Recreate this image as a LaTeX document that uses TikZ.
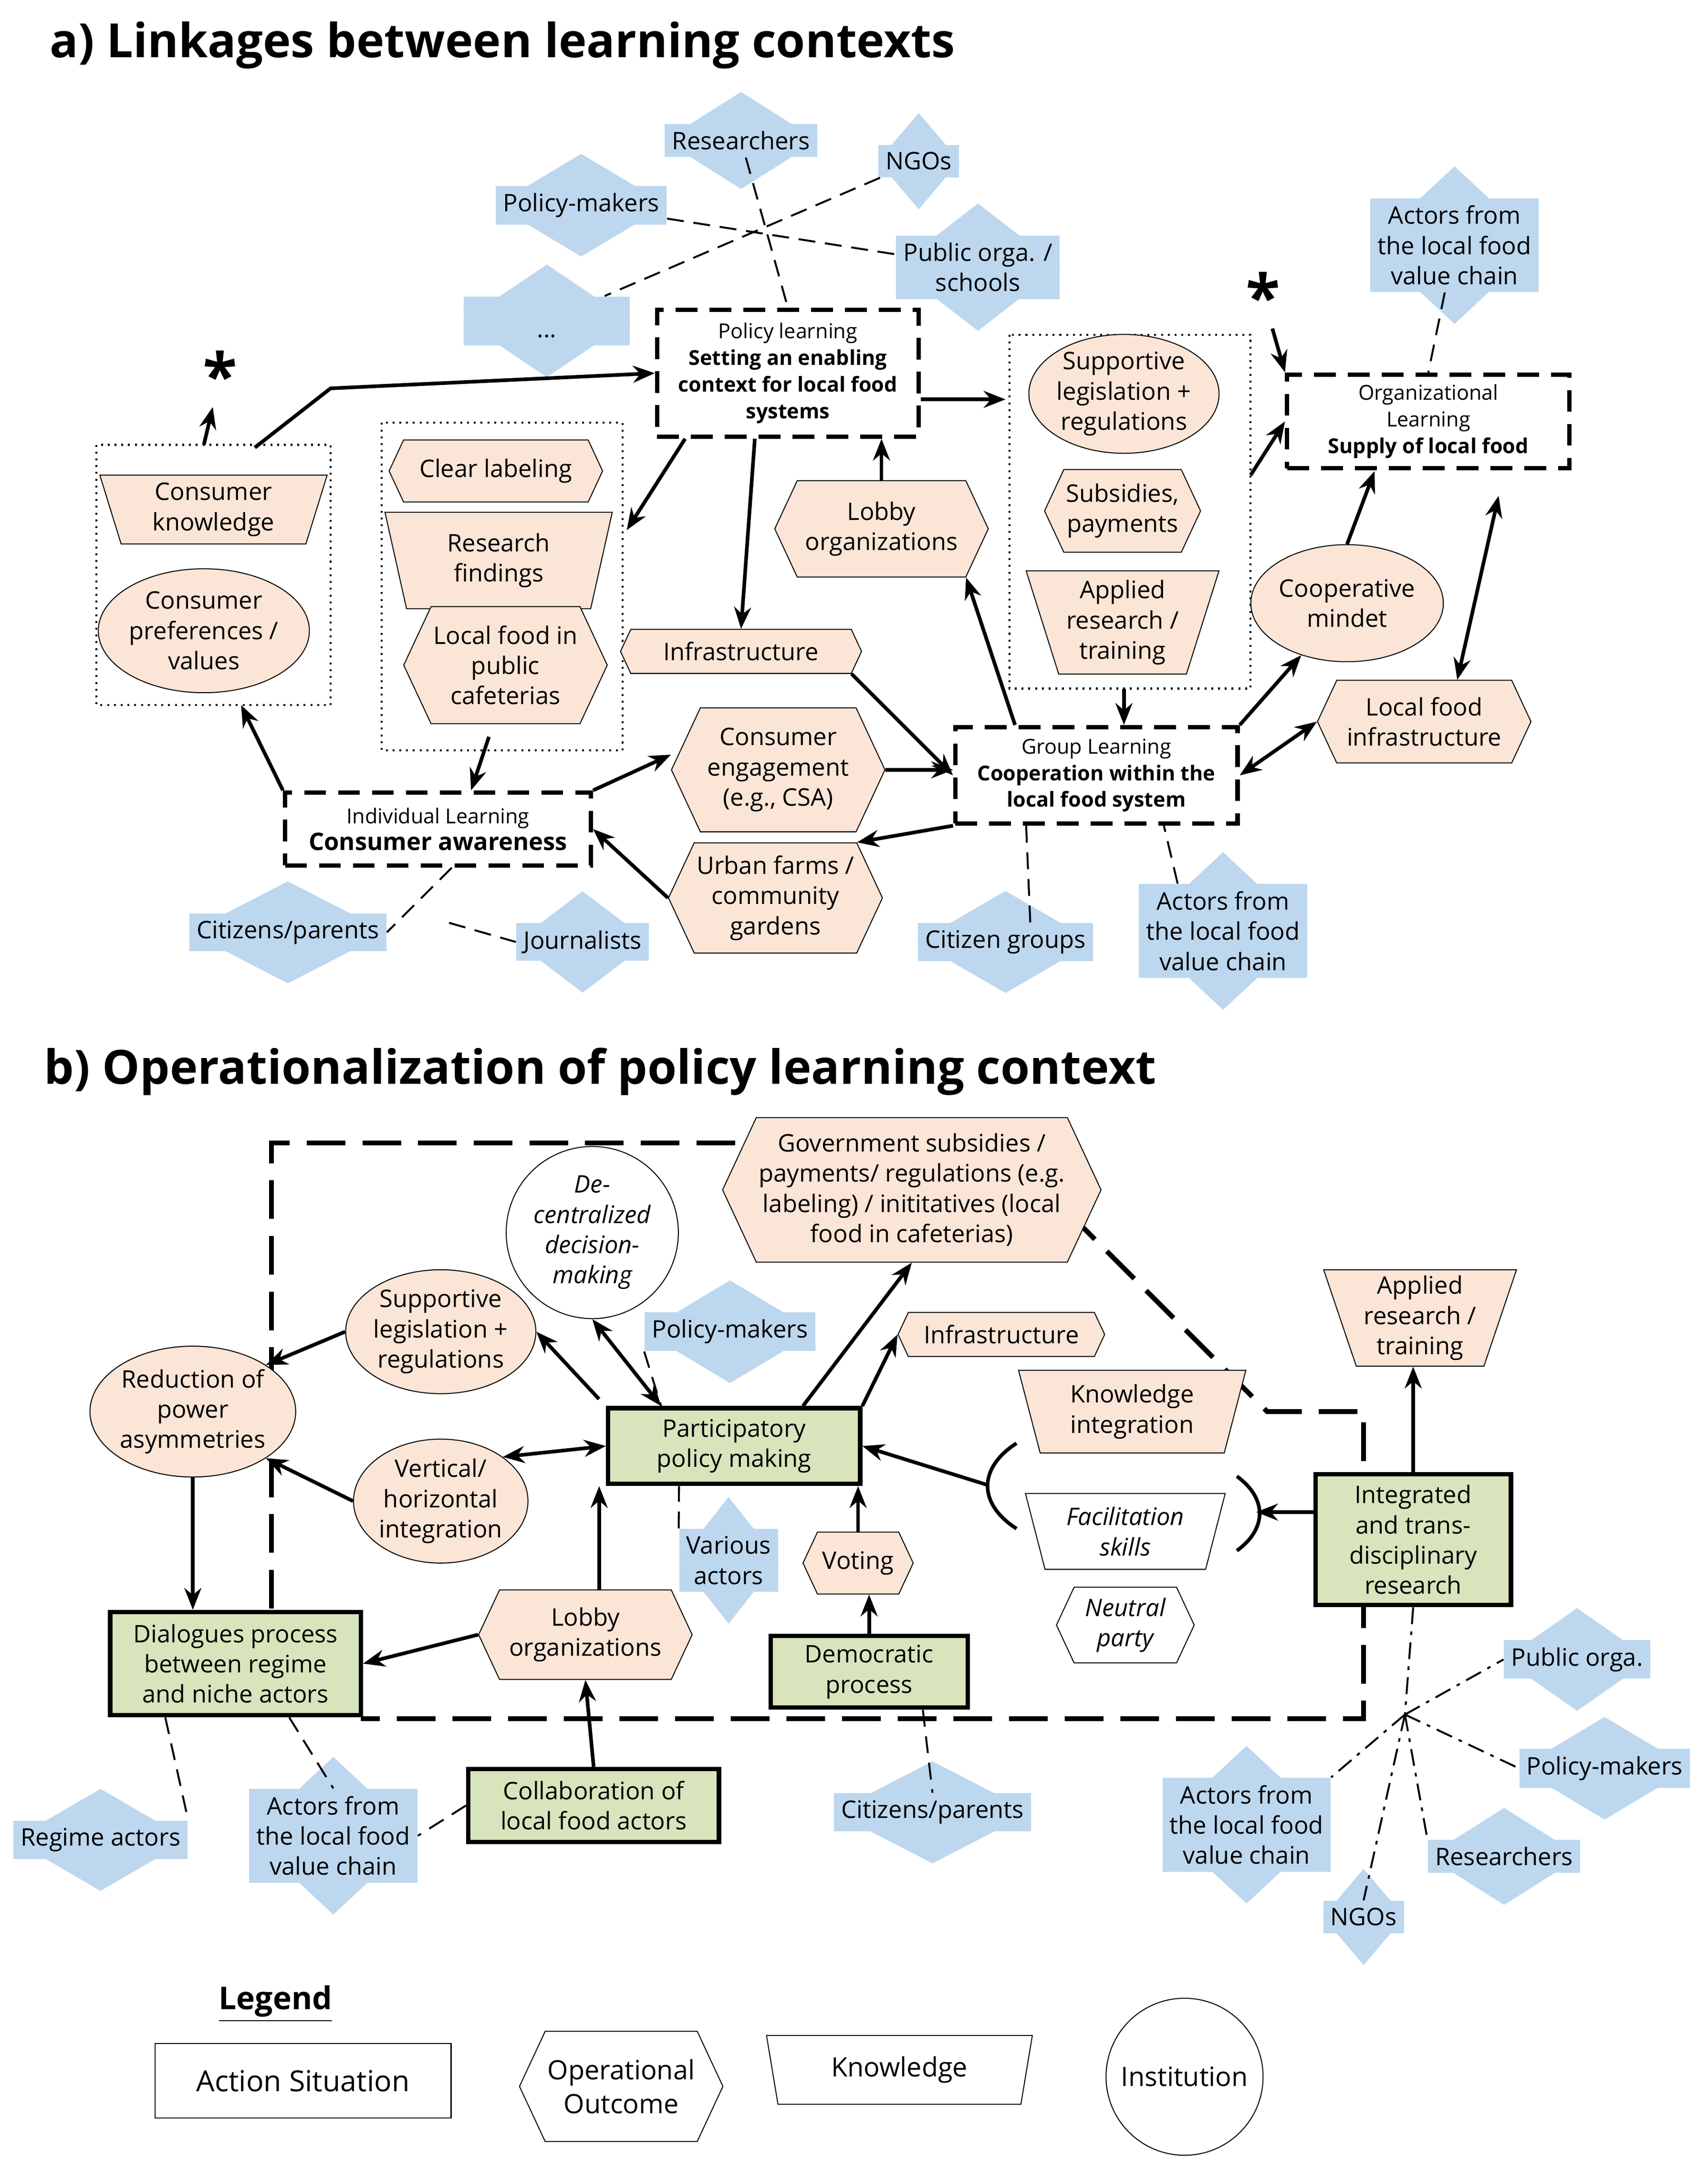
\documentclass[tikz,border=0pt]{standalone}
\usepackage{fontspec}
\setmainfont{Open Sans}
\usetikzlibrary{shapes.geometric,shapes.symbols,arrows.meta,backgrounds,calc}
\definecolor{pe}{HTML}{FBE5D6}
\definecolor{bl}{HTML}{BDD7EE}
\definecolor{gr}{HTML}{D8E4BC}
\tikzset{
 every node/.style={font=\fontsize{10}{12.5}\selectfont, align=center},
 sz/.style 2 args={minimum width=#1*0.02cm, minimum height=#2*0.02cm},
 hex/.style={signal, signal to=west and east, signal pointer angle=130, draw, fill=pe, inner sep=1pt},
 kn/.style={trapezium, shape border rotate=180, trapezium left angle=70, trapezium right angle=70, trapezium stretches body, draw, fill=pe, inner sep=1pt},
 inst/.style={ellipse, draw, fill=pe, inner sep=0pt},
 act/.style={fill=bl, inner sep=3pt},
 asa/.style={draw, line width=1.8pt, dash pattern=on 9pt off 5pt, inner sep=3pt},
 asb/.style={draw, line width=1.8pt, fill=gr, inner sep=3pt},
 arr/.style={-{Stealth[length=9pt,width=7pt]}, line width=1.5pt},
 darr/.style={{Stealth[length=9pt,width=7pt]}-{Stealth[length=9pt,width=7pt]}, line width=1.5pt},
 dsh/.style={dash pattern=on 7pt off 4pt, line width=0.8pt},
 sm/.style={font=\fontsize{8.5}{11}\selectfont},
 ttl/.style={font=\fontsize{19.5}{22}\selectfont\bfseries, anchor=west},
}
\newcommand\actor[3]{\node[act] (#1) at (#2) {#3};
 \begin{pgfonlayer}{background}\fill[bl] ([yshift=13pt]#1.north) -- (#1.east) -- ([yshift=-13pt]#1.south) -- (#1.west) -- cycle;\end{pgfonlayer}}
\begin{document}
\begin{tikzpicture}[x=0.02cm,y=-0.02cm]
\useasboundingbox (0,0) rectangle (1240,1575);
% ---------- a ----------
\node[ttl] (ta) at (30,33) {a) Linkages between learning contexts};
\node[asa, sz={190}{92}, sm] (PL) at (572,271) {Policy learning\\\textbf{Setting an enabling}\\\textbf{context for local food}\\\textbf{systems}};
\actor{res}{538,102}{Researchers}
\actor{ngo}{667,117}{NGOs}
\actor{pm}{422,149}{Policy-makers}
\actor{po}{710,194}{Public orga. /\\schools}
\actor{dots}{397,233}{\makebox[2.2cm]{\rule{0pt}{14pt}...}}
\draw[dsh] (res) -- (PL.north);
\draw[dsh] (ngo) -- (dots);
\draw[dsh] (pm) -- (po);
% left box
\draw[dotted, thick] (70,323) rectangle (240,512);
\node[kn, sz={165}{50}] (ck) at (155,370) {Consumer\\knowledge};
\node[inst, sz={130}{90}] (cp) at (148,458) {Consumer\\preferences /\\values};
\node[font=\fontsize{26}{26}\selectfont\bfseries] (st1) at (160,272) {*};
\coordinate (lb1) at (148,323);
\coordinate (lb2) at (185,325);
\coordinate (lbk) at (240,282);
\draw[arr] (lb1) -- (st1);
\draw[arr] (lb2) -- (lbk) -- (PL.west);
% middle box
\draw[dotted, thick] (277,307) rectangle (452,545);
\node[hex, sz={155}{45}] (cl) at (360,342) {Clear labeling};
\node[kn, sz={165}{70}] (rf) at (362,407) {Research\\findings};
\node[hex, sz={135}{85}] (lf) at (367,483) {Local food in\\public\\cafeterias};
\coordinate (mbr) at (455,385);
\coordinate (mbb) at (355,535);
\draw[arr] (PL.south west) ++(22,0) coordinate (pl1) -- (mbr);
\node[hex, sz={175}{32}] (inf) at (538,473) {Infrastructure};
\draw[arr] (PL.south) ++(-24,0) coordinate (pl2) -- (inf.north);
% right box
\draw[dotted, thick] (733,243) rectangle (908,500);
\node[inst, sz={130}{75}] (sl) at (816,286) {Supportive\\legislation +\\regulations};
\node[hex, sz={110}{60}] (sp) at (815,371) {Subsidies,\\payments};
\node[kn, sz={140}{75}] (ar) at (815,452) {Applied\\research /\\training};
\coordinate (rbl) at (730,290);
\draw[arr] (PL.east |- rbl) -- (rbl);
\node[asa, sz={205}{68}, sm] (OL) at (1037,306) {Organizational\\Learning\\\textbf{Supply of local food}};
\node[font=\fontsize{26}{26}\selectfont\bfseries] (st2) at (917,215) {*};
\draw[arr] (st2) -- (OL.north west);
\actor{av1}{1056,178}{Actors from\\the local food\\value chain}
\draw[dsh] (av1) -- (OL.north);
\coordinate (rbr) at (908,345);
\draw[arr] (rbr) -- (OL.west);
\node[hex, sz={155}{70}] (lo) at (640,384) {Lobby\\organizations};
\draw[arr] (lo.north) -- (lo.north |- PL.south);
\node[inst, sz={125}{85}] (cm) at (978,438) {Cooperative\\mindet};
\coordinate (olb) at (998,342);
\draw[arr] (cm.north) -- (olb);
\node[hex, sz={155}{60}] (lfi) at (1034,524) {Local food\\infrastructure};
\node[asa, sz={205}{70}, sm] (GL) at (796,563) {Group Learning\\\textbf{Cooperation within the}\\\textbf{local food system}};
\coordinate (olb2) at (1088,360);
\draw[darr] (lfi.north) ++(24,0) coordinate (lf1) -- (olb2);
\draw[darr] (GL.east) -- (lfi.west);
\draw[arr] (GL.north east) -- (cm);
\coordinate (rbb) at (816,500);
\draw[arr] (rbb) -- (GL.north -| rbb);
\draw[arr] (GL.north west) ++(45,0) coordinate (gl1) -- (lo.south east);
\draw[arr] (inf.south east) -- (GL.west);
\node[hex, sz={155}{90}] (ce) at (565,559) {Consumer\\engagement\\(e.g., CSA)};
\draw[arr] (ce.east) -- (GL.west |- ce.east);
\node[hex, sz={155}{80}] (uf) at (563,652) {Urban farms /\\community\\gardens};
\draw[arr] (GL.south west) -- (uf.north east);
\node[asa, sz={222}{53}, sm] (IL) at (318,602) {Individual Learning\\\textbf{\fontsize{10}{12}\selectfont Consumer awareness}};
\draw[arr] (uf.west) -- (IL.east);
\draw[arr] (IL.north east) -- (ce.west |- 0,548);
\draw[arr] (mbb) -- (IL.north -| 342,0);
\draw[arr] (IL.north west) -- (175,512);
\actor{cit}{209,677}{Citizens/parents}
\actor{jou}{423,684}{Journalists}
\actor{cg}{730,684}{Citizen groups}
\actor{av2}{888,676}{Actors from\\the local food\\value chain}
\draw[dsh] (IL.south) ++(10,0) coordinate (il1) -- (cit.east);
\draw[dsh] (il1) ++(-2,40) coordinate (il2) -- (jou.west);
\draw[dsh] (cg.north -| 748,0) -- (GL.south -| 745,0);
\draw[dsh] (av2.north -| 855,0) -- (GL.south -| 845,0);
% ---------- b ----------
\node[ttl] (tb) at (26,778) {b) Operationalization of policy learning context};
\draw[line width=2pt, dash pattern=on 16pt off 7pt] (197,1168) -- (197,830) -- (555,830);
\draw[line width=2pt, dash pattern=on 16pt off 7pt] (775,880) -- (920,1025) -- (990,1025) -- (990,1248) -- (262,1248);
\node[hex, sz={240}{105}] (gov) at (662,864) {Government subsidies /\\payments/ regulations (e.g.\\labeling) / inititatives (local\\food in cafeterias)};
\node[inst, fill=white, sz={125}{125}, font=\fontsize{10}{12.5}\selectfont\itshape] (dc) at (430,895) {De-\\centralized\\decision-\\making};
\node[inst, sz={125}{90}] (sl2) at (320,967) {Supportive\\legislation +\\regulations};
\node[inst, sz={145}{95}] (rp) at (140,1025) {Reduction of\\power\\asymmetries};
\node[inst, sz={125}{90}] (vh) at (320,1090) {Vertical/\\horizontal\\integration};
\node[hex, sz={150}{32}] (inf2) at (727,969) {Infrastructure};
\node[asb, sz={183}{55}] (ppm) at (533,1050) {Participatory\\policy making};
\actor{pm2}{530,967}{Policy-makers}
\node[kn, sz={165}{60}] (ki) at (822,1025) {Knowledge\\integration};
\node[kn, fill=white, sz={145}{55}, font=\fontsize{10}{12.5}\selectfont\itshape] (fs) at (817,1112) {Facilitation\\skills};
\node[hex, fill=white, sz={100}{55}, font=\fontsize{10}{12.5}\selectfont\itshape] (np) at (817,1180) {Neutral\\party};
\node[asb, sz={142}{95}] (itr) at (1026,1118) {Integrated\\and trans-\\disciplinary\\research};
\node[kn, sz={140}{70}] (ar2) at (1031,957) {Applied\\research /\\training};
\coordinate (bl1) at (716,1078);
\coordinate (br1) at (912,1098);
\draw[line width=1.5pt] (738,1048) .. controls (710,1066) and (710,1092) .. (738,1110);
\draw[line width=1.5pt] (898,1072) .. controls (920,1088) and (920,1110) .. (898,1126);
\draw[arr] (itr.north) -- (ar2.south -| itr.north);
\draw[arr] (itr.west |- br1) -- (br1);
\draw[arr] (bl1) -- (ppm.east);
\draw[arr] (ppm.north west) ++(-5,-5) coordinate (pp1) -- (sl2.east);
\draw[arr] (ppm.north) ++(50,0) coordinate (pp2) -- (gov.south);
\draw[arr] (ppm.north east) -- (inf2.west);
\draw[darr] (ppm.north west) ++(40,0) coordinate (pp3) -- (dc.south);
\draw[darr] (ppm.west) -- (vh.north east);
\draw[dsh] (pm2.south west) -- (pp3);
\actor{va}{529,1133}{Various\\actors}
\draw[dsh] (va.north west) -- (ppm.south -| 493,0);
\node[hex, sz={80}{45}] (vo) at (623,1135) {Voting};
\draw[arr] (vo.north) -- (ppm.south -| vo.north);
\node[asb, sz={143}{52}] (dp) at (631,1214) {Democratic\\process};
\draw[arr] (dp.north) -- (vo.south -| dp.north);
\node[hex, sz={155}{65}] (lo2) at (425,1187) {Lobby\\organizations};
\draw[arr] (lo2.north) ++(10,0) coordinate (lo21) -- (ppm.south -| lo21);
\node[asb, sz={182}{75}] (dl) at (171,1208) {Dialogues process\\between regime\\and niche actors};
\draw[arr] (lo2.west) -- (dl.east);
\draw[arr] (sl2.west) -- (rp.north east);
\draw[arr] (vh.west) -- (rp.south east);
\draw[arr] (rp.south) -- (dl.north -| rp.south);
\node[asb, sz={182}{53}] (col) at (431,1311) {Collaboration of\\local food actors};
\draw[arr] (col.north) -- (lo2.south);
\actor{ra}{73,1336}{Regime actors}
\actor{av3}{242,1333}{Actors from\\the local food\\value chain}
\actor{cp2}{677,1316}{Citizens/parents}
\draw[dsh] (dl.south -| 120,0) -- (ra.north east);
\draw[dsh] (dl.south -| 210,0) -- (av3.north);
\draw[dsh] (col.west) -- (av3.east);
\draw[dsh] (dp.south -| 670,0) -- (cp2.north);
\actor{po2}{1145,1205}{Public orga.}
\actor{pm3}{1165,1284}{Policy-makers}
\actor{re2}{1092,1348}{Researchers}
\actor{ng2}{990,1392}{NGOs}
\actor{av4}{905,1325}{Actors from\\the local food\\value chain}
\coordinate (hub) at (1020,1245);
\begin{scope}[dash pattern=on 7pt off 3pt on 1.5pt off 3pt, line width=0.8pt]
\draw (itr.south) -- (hub);
\draw (hub) -- (po2.west);
\draw (hub) -- (pm3.west);
\draw (hub) -- (re2.north west);
\draw (hub) -- (ng2.north);
\draw (hub) -- (av4.north east);
\end{scope}
% legend
\node[font=\fontsize{13}{15}\selectfont\bfseries] (lg) at (200,1455) {\underline{Legend}};
\node[draw, sz={215}{54}, font=\fontsize{12}{14}\selectfont] (l1) at (220,1511) {Action Situation};
\node[hex, fill=white, sz={145}{80}, font=\fontsize{11}{14}\selectfont] (l2) at (451,1515) {Operational\\Outcome};
\node[kn, fill=white, sz={193}{50}, font=\fontsize{11}{14}\selectfont] (l3) at (653,1503) {Knowledge};
\node[circle, draw, minimum size=114*0.02cm, inner sep=0pt, font=\fontsize{11}{14}\selectfont] (l4) at (860,1508) {Institution};
\end{tikzpicture}
\end{document}
